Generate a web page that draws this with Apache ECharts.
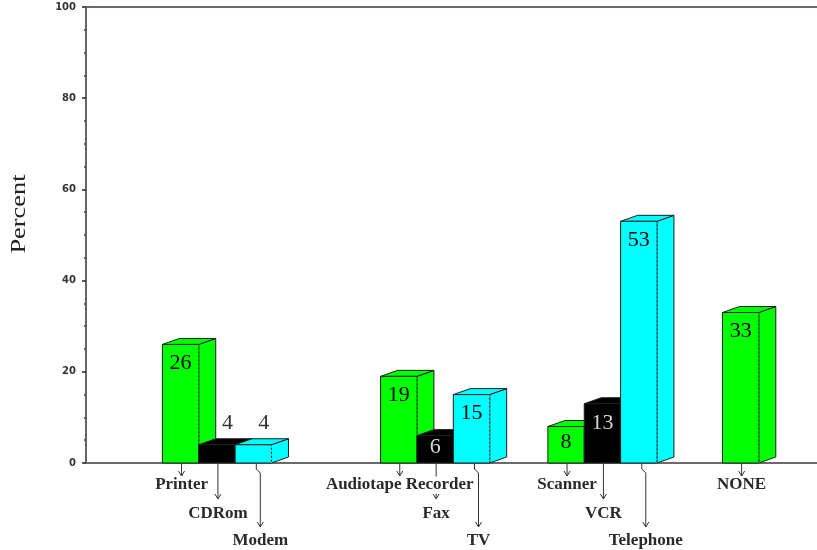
<!DOCTYPE html>
<html><head><meta charset="utf-8">
<script src="https://cdn.jsdelivr.net/npm/echarts@6/dist/echarts.min.js"></script>
<style>html,body{margin:0;padding:0;background:#fff}#c{width:817px;height:550px}</style>
</head><body><div id="c"></div>
<script>
// ---- data ----
const groupCategories = [
  ['Printer', 'CDRom', 'Modem'],
  ['Audiotape Recorder', 'Fax', 'TV'],
  ['Scanner', 'VCR', 'Telephone'],
  ['NONE']
];
const groupValues = [
  [26, 4, 4],
  [19, 6, 15],
  [8, 13, 53],
  [33]
];
const yTicks = [0, 20, 40, 60, 80, 100];
const yAxisTitle = 'Percent';

// ---- layout / style ----
const slotColors = ['#00ff00', '#000000', '#00ffff'];
const valueLabelColors = ['#000000', '#d4d4d4', '#000000'];
const groupGaps = [3, 1.6, 1.8];   // gap after each group, in bar widths
const xMin = -2.1, xMax = 18;
const DX = 17, DY = 6;              // 3D depth offsets (px)
const rowTextOffset = [22, 51, 78];
const rowTipOffset = [13, 36, 64];

const items = [];
let pos = 0;
groupCategories.forEach((cats, g) => {
  cats.forEach((name, k) => {
    items.push({ name: name, value: [pos, groupValues[g][k], k] });
    pos += 1;
  });
  pos += groupGaps[g] || 0;
});

function renderItem(params, api) {
  const idx = params.dataIndex;
  const name = items[idx].name;
  const x = api.value(0), v = api.value(1), row = api.value(2);
  const pb = api.coord([x, 0]);
  const pt = api.coord([x + 1, v]);
  const x0 = pb[0], x1 = pt[0], base = pb[1], top = pt[1];
  const w = x1 - x0, h = base - top;
  const fill = slotColors[row];
  const edge = '#1e1e1e';
  const zb = idx * 10;
  const ch = [];
  // side face
  ch.push({ type: 'polygon', z2: zb + 1,
    shape: { points: [[x1, base], [x1 + DX, base - DY], [x1 + DX, top - DY], [x1, top]] },
    style: { fill: fill, stroke: edge, lineWidth: 1 } });
  // top face
  ch.push({ type: 'polygon', z2: zb + 2,
    shape: { points: [[x0, top], [x1, top], [x1 + DX, top - DY], [x0 + DX, top - DY]] },
    style: { fill: fill, stroke: edge, lineWidth: 1 } });
  // front face
  ch.push({ type: 'rect', z2: zb + 3,
    shape: { x: x0, y: top, width: w, height: h },
    style: { fill: fill, stroke: edge, lineWidth: 1 } });
  // dotted front/side edge
  ch.push({ type: 'line', z2: zb + 4,
    shape: { x1: x1, y1: top + 1, x2: x1, y2: base },
    style: { stroke: fill, lineWidth: 1, lineDash: [2, 2] } });

  // value label
  const cx = (x0 + x1) / 2;
  const inside = h >= 22;
  ch.push({ type: 'text', z2: 2000,
    x: inside ? cx : cx + DX / 2 + 2,
    y: inside ? top + Math.min(19, h * 0.42) : top - 22,
    style: { text: String(v), fill: inside ? valueLabelColors[row] : '#333',
      font: '22px "Liberation Serif", serif',
      align: 'center', verticalAlign: 'middle',
      textAlign: 'center', textVerticalAlign: 'middle' } });

  // category leader + label
  const lx = row === 2 ? cx + 3 : cx + 1;
  const jog = row === 2 ? 4 : 0;
  const tipY = base + rowTipOffset[row];
  let pts;
  if (row === 2) pts = [[lx, base], [lx, base + 6], [lx + jog, base + 10], [lx + jog, tipY]];
  else pts = [[lx, base], [lx, tipY]];
  ch.push({ type: 'polyline', z2: 500, shape: { points: pts },
    style: { stroke: '#333', lineWidth: 1, fill: null } });
  const tx = lx + jog;
  ch.push({ type: 'polyline', z2: 500,
    shape: { points: [[tx - 3, tipY - 5], [tx, tipY], [tx + 3, tipY - 5]] },
    style: { stroke: '#333', lineWidth: 1, fill: null } });
  ch.push({ type: 'text', z2: 600, x: tx, y: base + rowTextOffset[row],
    style: { text: name, fill: '#2a2a2a',
      font: 'bold 17px "Liberation Serif", serif',
      align: 'center', verticalAlign: 'middle',
      textAlign: 'center', textVerticalAlign: 'middle',
      backgroundColor: '#ffffff' } });
  return { type: 'group', children: ch };
}

const chart = echarts.init(document.getElementById('c'), null, { renderer: 'canvas' });
const axisX = (position, color) => ({
  type: 'value', min: xMin, max: xMax, position: position,
  axisLine: { show: true, onZero: false, lineStyle: { color: color, width: 2 } },
  axisTick: { show: false }, axisLabel: { show: false }, splitLine: { show: false }
});
chart.setOption({
  animation: false,
  backgroundColor: '#ffffff',
  grid: { left: 86, right: 0, top: 7, bottom: 87, containLabel: false },
  xAxis: [axisX('bottom', '#6a6a6a'), axisX('top', '#6e6476')],
  yAxis: {
    type: 'value', min: yTicks[0], max: yTicks[yTicks.length - 1],
    interval: yTicks[1] - yTicks[0], position: 'left',
    axisLine: { show: true, onZero: false, lineStyle: { color: '#666', width: 2 } },
    axisTick: { show: true, length: 4, lineStyle: { color: '#222', width: 1.5 } },
    minorTick: { show: true, splitNumber: 4, length: 2, lineStyle: { color: '#444', width: 1.5 } },
    axisLabel: { fontFamily: 'DejaVu Sans', fontWeight: 'bold', fontSize: 10, color: '#333', margin: 10 },
    splitLine: { show: false }, minorSplitLine: { show: false }
  },
  graphic: [{
    type: 'text', x: 19, y: 214, rotation: Math.PI / 2, scaleX: 1.2,
    style: { text: yAxisTitle, font: '22px "Liberation Serif", serif', fill: '#222',
      align: 'center', verticalAlign: 'middle', textAlign: 'center', textVerticalAlign: 'middle' }
  }],
  series: [{
    type: 'custom', renderItem: renderItem, clip: false,
    encode: { x: 0, y: 1 },
    data: items
  }]
});
</script>
</body></html>
